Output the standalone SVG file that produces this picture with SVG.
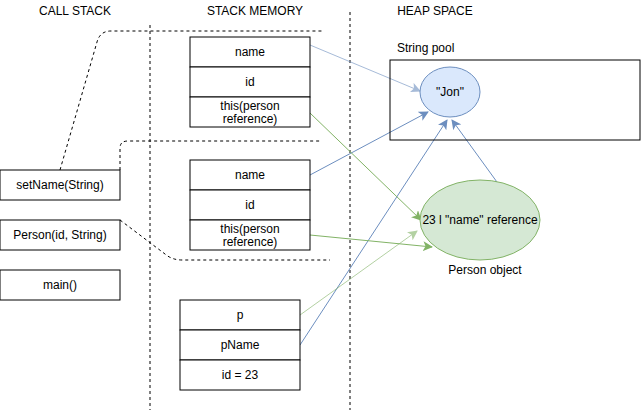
<svg xmlns="http://www.w3.org/2000/svg" width="641" height="412" viewBox="0 0 641 412">
<style>
text{font-family:"Liberation Sans",Arial,sans-serif;font-size:12px;fill:#000;text-anchor:middle;dominant-baseline:central}
.box{fill:#fff;stroke:#000;stroke-width:1}
.dash{fill:none;stroke:#000;stroke-width:1;stroke-dasharray:3 3}
.blue{fill:none;stroke:#6c8ebf;stroke-width:1}
.green{fill:none;stroke:#82b366;stroke-width:1}
</style>
<defs>
<marker id="ab" viewBox="0 0 10 10" refX="9" refY="5" markerWidth="10" markerHeight="10" markerUnits="userSpaceOnUse" orient="auto"><path d="M0,0 L10,5 L0,10 L2.5,5 Z" fill="#6c8ebf"/></marker>
<marker id="ag" viewBox="0 0 10 10" refX="9" refY="5" markerWidth="10" markerHeight="10" markerUnits="userSpaceOnUse" orient="auto"><path d="M0,0 L10,5 L0,10 L2.5,5 Z" fill="#82b366"/></marker>
</defs>
<rect width="641" height="412" fill="#fff"/>
<g id="titles">
<text x="75" y="11">CALL STACK</text>
<text x="255" y="11">STACK MEMORY</text>
<text x="435" y="11">HEAP SPACE</text>
</g>
<g id="dividers">
<line class="dash" x1="150" y1="25" x2="150" y2="410"/>
<line class="dash" x1="350" y1="12" x2="350" y2="410"/>
</g>
<g id="connectors">
<path class="dash" d="M60,170 L97,42 Q100,31 111,31 L322,31"/>
<path class="dash" d="M120,170 L120,148 Q120,141 128,141 L322,141"/>
<path class="dash" d="M120,220 L165,254 Q172,260 182,260 L330,260"/>
<line class="blue" x1="310" y1="45" x2="420" y2="91" marker-end="url(#ab)" opacity="0.6"/>
<line class="blue" x1="310" y1="175" x2="428" y2="112" marker-end="url(#ab)"/>
<line class="blue" x1="300" y1="345" x2="447" y2="120" marker-end="url(#ab)"/>
<line class="blue" x1="510" y1="200" x2="452" y2="120" marker-end="url(#ab)"/>
<line class="green" x1="310" y1="113" x2="421" y2="220" marker-end="url(#ag)"/>
<line class="green" x1="310" y1="235" x2="432" y2="247" marker-end="url(#ag)"/>
<line class="green" x1="300" y1="315" x2="417" y2="231" marker-end="url(#ag)" opacity="0.6"/>
</g>
<g id="setName">
<rect class="box" x="0" y="170" width="120" height="30"/>
<text x="60" y="185">setName(String)</text>
</g>
<g id="personCall">
<rect class="box" x="0" y="220" width="120" height="30"/>
<text x="60" y="235">Person(id, String)</text>
</g>
<g id="mainCall">
<rect class="box" x="0" y="270" width="120" height="30"/>
<text x="60" y="285">main()</text>
</g>
<g id="frame1">
<rect class="box" x="190" y="37" width="120" height="30"/>
<text x="250" y="52">name</text>
<rect class="box" x="190" y="67" width="120" height="30"/>
<text x="250" y="82">id</text>
<rect class="box" x="190" y="97" width="120" height="30"/>
<text x="250" y="106">this(person</text>
<text x="250" y="119">reference)</text>
</g>
<g id="frame2">
<rect class="box" x="190" y="160" width="120" height="30"/>
<text x="250" y="175">name</text>
<rect class="box" x="190" y="190" width="120" height="30"/>
<text x="250" y="205">id</text>
<rect class="box" x="190" y="220" width="120" height="30"/>
<text x="250" y="229">this(person</text>
<text x="250" y="242">reference)</text>
</g>
<g id="frame3">
<rect class="box" x="180" y="300" width="120" height="30"/>
<text x="240" y="315">p</text>
<rect class="box" x="180" y="330" width="120" height="30"/>
<text x="240" y="345">pName</text>
<rect class="box" x="180" y="360" width="120" height="30"/>
<text x="240" y="375">id = 23</text>
</g>
<g id="stringPool">
<text x="397" y="48" style="text-anchor:start">String pool</text>
<rect x="390" y="60" width="250" height="80" fill="none" stroke="#000"/>
</g>
<g id="jon">
<ellipse cx="450" cy="92" rx="30" ry="25" fill="#dae8fc" stroke="#6c8ebf"/>
<text x="450" y="92">"Jon"</text>
</g>
<g id="personObject">
<ellipse cx="480" cy="220" rx="60" ry="40" fill="#d5e8d4" stroke="#82b366"/>
<text x="480" y="220">23 l "name" reference</text>
<text x="485" y="270">Person object</text>
</g>
</svg>
